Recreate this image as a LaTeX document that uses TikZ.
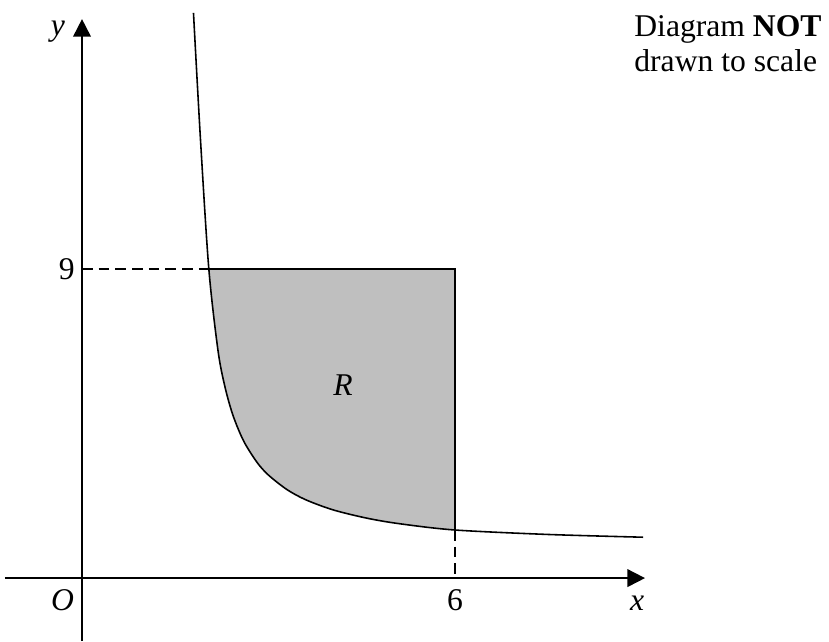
\documentclass[tikz,border=0pt]{standalone}
\usepackage{fontspec}
\setmainfont{Liberation Serif}
\usetikzlibrary{arrows.meta, positioning}

\begin{document}
\begin{tikzpicture}[
  x=1.2434cm, y=0.6867cm,
  axis/.style={line width=1pt, -{Triangle[length=10pt, width=10pt]}},
  curve/.style={line width=0.9pt},
  guide/.style={line width=0.8pt, dash pattern=on 6pt off 3.5pt},
  lbl/.style={font=\fontsize{18}{20}\selectfont, inner sep=0pt},
  region/.style={fill=black!25}
]
\useasboundingbox (-1.319,-1.835) rectangle (12.015,16.836);

% key points
\coordinate (O)    at (0,0);
\coordinate (xbeg) at (-1.239,0);
\coordinate (xend) at (9.056,0);
\coordinate (ybeg) at (0,-1.835);
\coordinate (yend) at (0,16.28);
\coordinate (Y9)   at (0,9);
\coordinate (X6)   at (6,0);
\coordinate (P)    at (2.04,9);
\coordinate (Q)    at (6,1.40);
\coordinate (C)    at (6,9);

% shaded region R
\fill[region] plot[smooth] coordinates {(2.04,9) (2.188,6.62) (2.3,5.565)
  (2.429,4.736) (2.6,3.991) (2.815,3.371) (3.0,2.998) (3.297,2.577)
  (3.6,2.28) (4.037,1.987) (4.584,1.744) (5.115,1.581) (6,1.40)}
  -- (C) -- cycle;

% axes
\draw[axis] (xbeg) -- (xend);
\draw[axis] (ybeg) -- (yend);

% the curve
\draw[curve] plot[smooth] coordinates {(1.793,16.46) (1.906,12.76) (2.04,9)
  (2.188,6.62) (2.3,5.565) (2.429,4.736) (2.6,3.991) (2.815,3.371)
  (3.0,2.998) (3.297,2.577) (3.6,2.28) (4.037,1.987) (4.584,1.744)
  (5.115,1.581) (6,1.40) (7.5,1.27) (9.024,1.19)};

% boundary of R
\draw[curve] (P) -- (C) -- (Q);
\draw[guide] (Y9) -- (P);
\draw[guide] (Q) -- (X6);

% labels
\node[lbl, anchor=base] (ylab) at (-0.386,15.79) {\textit{y}};
\node[lbl, anchor=base] (olab) at (-0.314,-0.932) {\textit{O}};
\node[lbl, anchor=base] (sixlab) at (6,-0.932) {6};
\node[lbl, anchor=base] (xlab) at (8.93,-0.932) {\textit{x}};
\node[lbl, anchor=east] (ninelab) at (-0.11,9) {9};
\node[lbl] (rlab) at (4.2,5.62) {\textit{R}};
\node[lbl, anchor=base west] (note1) at (8.879,15.76) {Diagram \textbf{NOT}};
\node[lbl, anchor=base west] (note2) at (8.879,14.74) {drawn to scale};
\end{tikzpicture}
\end{document}
